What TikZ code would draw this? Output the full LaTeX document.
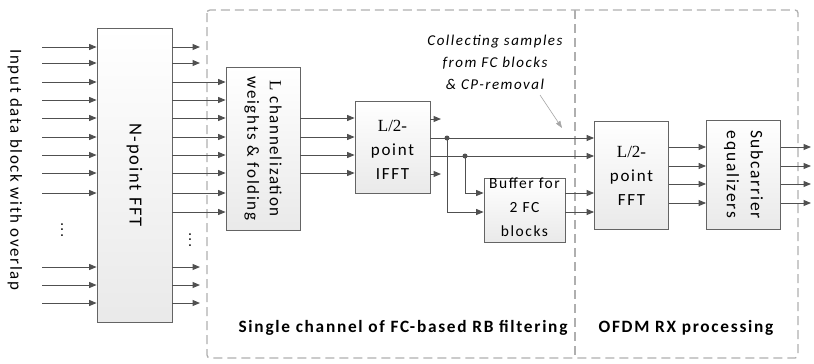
\documentclass[tikz,border=0pt]{standalone}
\usepackage{fontspec}
\setmainfont{Carlito}[LetterSpace=10]
\newfontfamily\serifL{Liberation Serif}
\usetikzlibrary{arrows.meta,calc}
\definecolor{lineg}{RGB}{80,80,80}
\definecolor{boxedge}{RGB}{100,100,100}
\definecolor{frameg}{RGB}{175,175,175}
\newcommand{\fsz}[2][24]{\fontsize{#2bp}{#1bp}\selectfont}
\begin{document}
\begin{tikzpicture}[x=1bp,y=-1bp,
  blk/.style={draw=boxedge, line width=0.8bp, top color=white, bottom color=gray!17, inner sep=0pt},
  arr/.style={draw=lineg, line width=1bp, -{Triangle[length=7.5bp,width=6bp]}},
  thinarr/.style={draw=gray!70, line width=0.6bp, -{Triangle[length=7bp,width=5bp]}},
  lbl/.style={font=\fsz{17}, align=center, text=black, inner sep=0pt},
  note/.style={font=\fontsize{15bp}{22bp}\selectfont\itshape, align=center, text=black, inner sep=0pt},
  title/.style={font=\fontsize{17.3bp}{20bp}\selectfont\bfseries, text=black, inner sep=0pt},
  dot/.style={circle, fill=lineg, inner sep=0pt, minimum size=5bp},
  frame/.style={draw=frameg, line width=1.3bp, dash pattern=on 9bp off 5bp}]

\useasboundingbox (0,0) rectangle (814,363);

% dashed frames of the two processing stages
\draw[frame, rounded corners=3bp] (207,10) rectangle (798,358);
\draw[frame] (575,10) -- (575,358);

% processing blocks
\node[blk, minimum width=75bp, minimum height=294bp] (nfft) at (134.5,175) {};
\node[blk, minimum width=74bp, minimum height=163bp] (chan) at (263,148.5) {};
\node[blk, minimum width=75bp, minimum height=92bp] (ifft) at (392.5,147) {};
\node[blk, minimum width=81bp, minimum height=64bp] (buf) at (524.5,210) {};
\node[blk, minimum width=74bp, minimum height=108bp] (fft) at (631.5,175) {};
\node[blk, minimum width=74bp, minimum height=109bp] (eq) at (743.5,174.5) {};

% block texts
\node[lbl, font={\fsz{16.9}}, rotate=-90] (intxt) at (15,170) {Input data block with overlap};
\node[lbl, font={\fsz{18.5}}, rotate=-90] (nfftT) at (nfft.center) {N-point FFT};
\node[lbl, font={\fsz[22.5]{17}}, rotate=-90] (chanT) at (chan.center) {{\serifL L} channelization\\weights \& folding};
\node[lbl] (ifftT) at ($(ifft.center)+(0,3)$) {{\serifL L/2-}\\point\\IFFT};
\node[lbl, font={\fsz{15.5}}] (bufT) at ($(buf.center)+(0,-3)$) {Buffer for\\2 FC\\blocks};
\node[lbl] (fftT) at ($(fft.center)+(0,1)$) {{\serifL L/2-}\\point\\FFT};
\node[lbl, font={\fsz{17.5}}, rotate=-90] (eqT) at (eq.center) {Subcarrier\\equalizers};

% stage titles
\node[title] (t1) at (403,328) {Single channel of FC-based RB filtering};
\node[title] (t2) at (686,328) {OFDM RX processing};

% note with its pointer
\node[note] (nt) at (495,62) {Collecting samples\\from FC blocks\\\& CP-removal};
\coordinate (ntA) at (540,95);
\coordinate (ntB) at (562,128);
\draw[thinarr] (ntA) -- (ntB);

% inputs of the N-point FFT
\foreach \y [count=\i] in {47,63,82,100,118,137,155,173,193,267,285,303} {
  \coordinate (in\i) at (42,\y);
  \draw[arr] (in\i) -- (in\i -| nfft.west);
}
\node[font=\fontsize{15bp}{15bp}\selectfont, inner sep=0pt] (vd1) at (62,230) {\rotatebox{90}{...}};

% outputs of the N-point FFT that leave this channel
\foreach \y [count=\i] in {47,63,267,285,303} {
  \coordinate (ox\i) at (200,\y);
  \draw[arr] (ox\i -| nfft.east) -- (ox\i);
}
\node[font=\fontsize{15bp}{15bp}\selectfont, inner sep=0pt] (vd2) at (190,240) {\rotatebox{90}{...}};

% outputs of the N-point FFT feeding the channelization
\foreach \y [count=\i] in {82,100,118,137,155,173,193,212} {
  \coordinate (oc\i) at (200,\y);
  \draw[arr] (oc\i -| nfft.east) -- (oc\i -| chan.west);
}

% channelization to IFFT
\foreach \y [count=\i] in {118,137,155,173} {
  \coordinate (ci\i) at (330,\y);
  \draw[arr] (ci\i -| chan.east) -- (ci\i -| ifft.west);
}

% IFFT outputs that are discarded
\coordinate (d1) at (441,119);
\coordinate (d2) at (441,174);
\draw[arr] (d1 -| ifft.east) -- (d1);
\draw[arr] (d2 -| ifft.east) -- (d2);

% IFFT outputs towards the FFT, with branches into the buffer
\coordinate (k1) at (447,138);
\coordinate (k2) at (465,156);
\node[dot] (j1) at (k1) {};
\node[dot] (j2) at (k2) {};
\draw[arr] (k1 -| ifft.east) -- (k1 -| fft.west);
\draw[arr] (k2 -| ifft.east) -- (k2 -| fft.west);
\coordinate (b1) at (500,212);
\coordinate (b2) at (500,193);
\draw[arr] (j1.center) |- (b1 -| buf.west);
\draw[arr] (j2.center) |- (b2 -| buf.west);

% buffer to FFT
\draw[arr] (b2 -| buf.east) -- (b2 -| fft.west);
\draw[arr] (b1 -| buf.east) -- (b1 -| fft.west);

% FFT to equalizers and equalizer outputs
\foreach \y [count=\i] in {147,166,184,203} {
  \coordinate (fe\i) at (690,\y);
  \coordinate (eo\i) at (811,\y);
  \draw[arr] (fe\i -| fft.east) -- (fe\i -| eq.west);
  \draw[arr] (fe\i -| eq.east) -- (eo\i);
}
\end{tikzpicture}
\end{document}
